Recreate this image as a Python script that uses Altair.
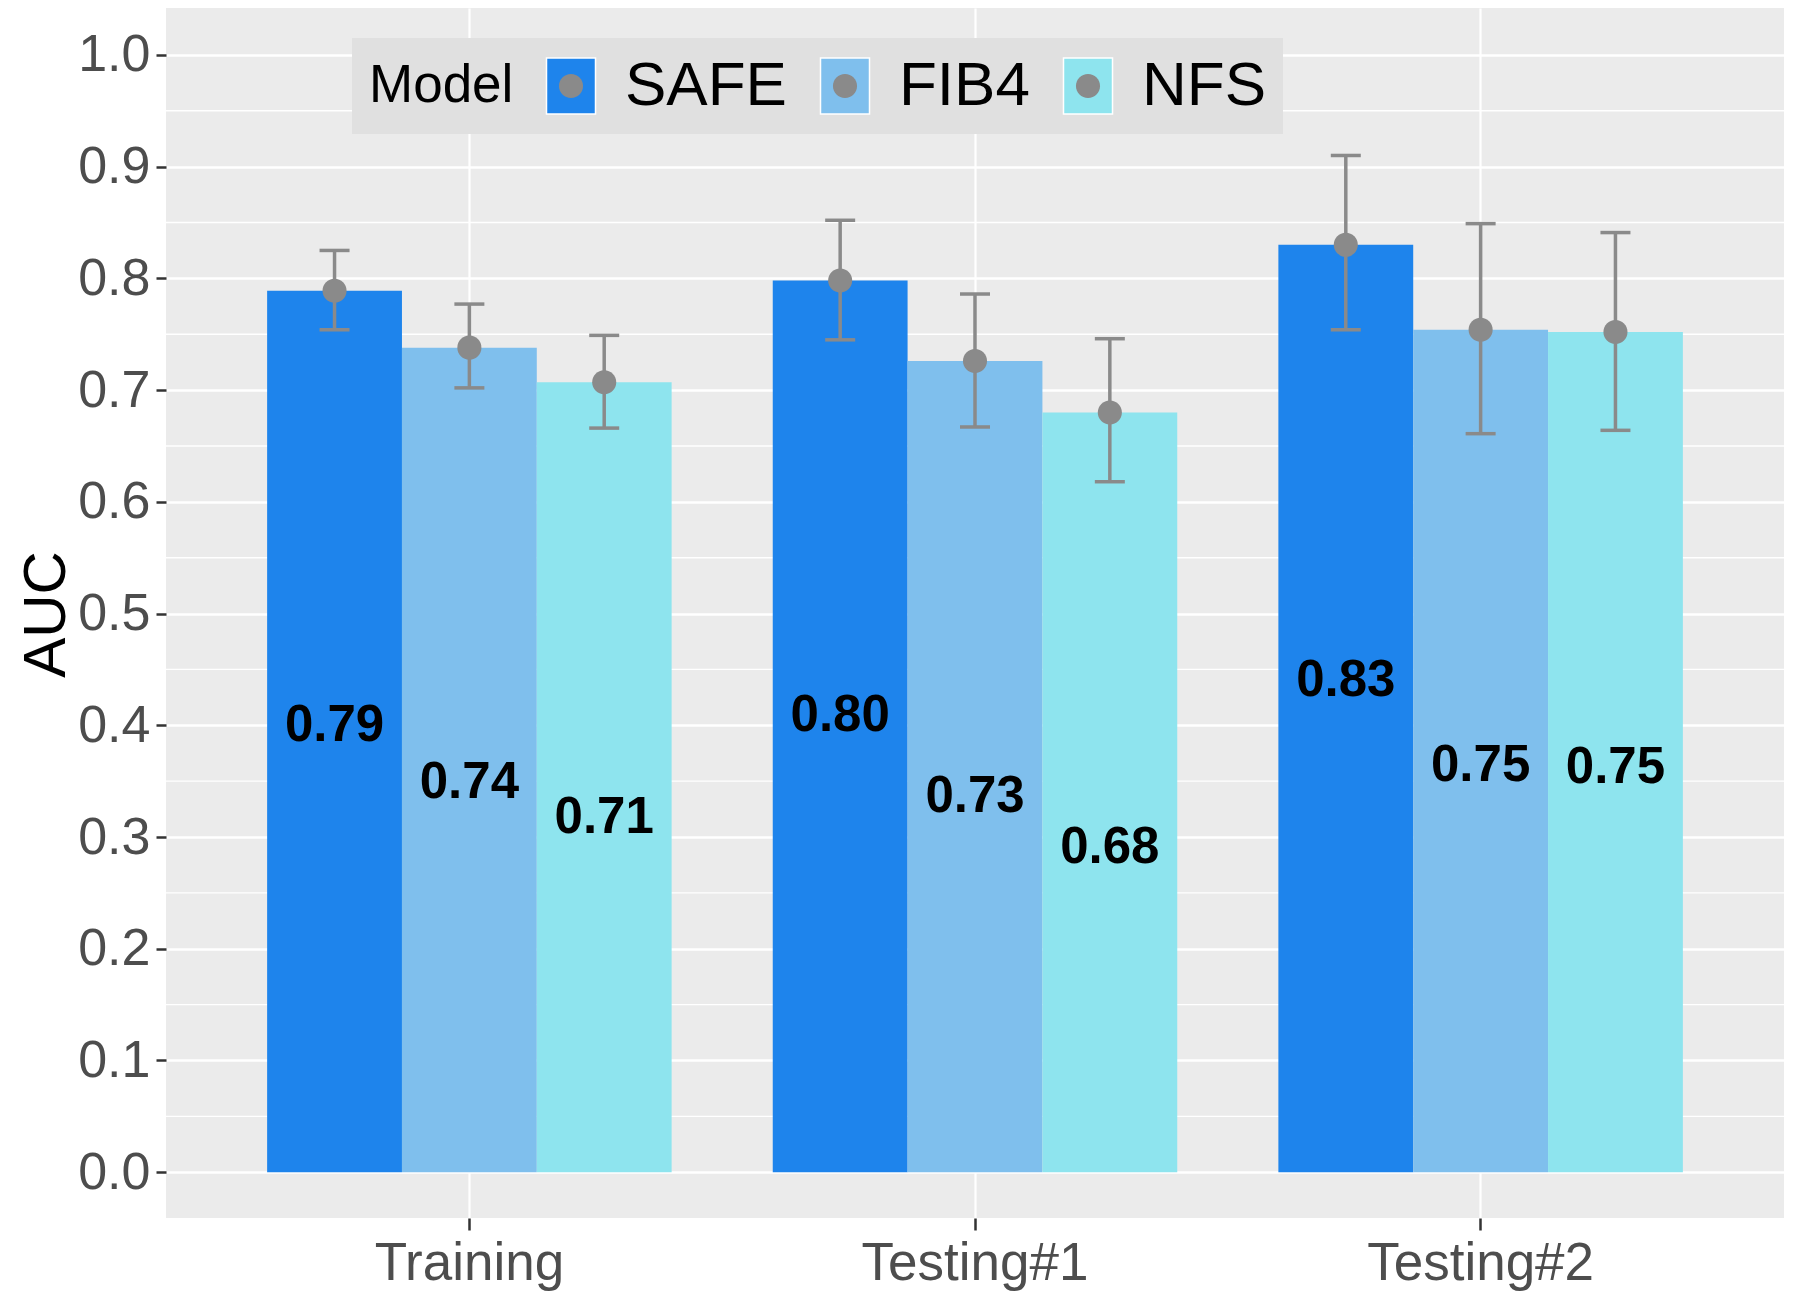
import altair as alt
import pandas as pd

sets = ["Training", "Testing#1", "Testing#2"]
models = ["SAFE", "FIB4", "NFS"]
colors = ["#1E84EC", "#7FBFED", "#8EE4EE"]

auc_safe = [0.789, 0.798, 0.830]
auc_fib4 = [0.738, 0.726, 0.754]
auc_nfs = [0.707, 0.680, 0.752]
lo_safe = [0.754, 0.745, 0.754]
hi_safe = [0.825, 0.852, 0.910]
lo_fib4 = [0.702, 0.667, 0.661]
hi_fib4 = [0.777, 0.786, 0.849]
lo_nfs = [0.666, 0.618, 0.664]
hi_nfs = [0.749, 0.746, 0.841]

major_ticks = [0.0, 0.1, 0.2, 0.3, 0.4, 0.5, 0.6, 0.7, 0.8, 0.9, 1.0]
minor_ticks = [0.05, 0.15, 0.25, 0.35, 0.45, 0.55, 0.65, 0.75, 0.85, 0.95]

rows = []
for m, a, lo, hi in [("SAFE", auc_safe, lo_safe, hi_safe),
                     ("FIB4", auc_fib4, lo_fib4, hi_fib4),
                     ("NFS", auc_nfs, lo_nfs, hi_nfs)]:
    for i, s in enumerate(sets):
        rows.append({"Set": s, "Model": m, "Model2": m, "AUC": a[i], "lo": lo[i], "hi": hi[i]})
df = pd.DataFrame(rows)
minor_df = pd.DataFrame({"v": minor_ticks})

FONT = "Liberation Sans"
GRAY = "#8A8A8A"
RECT = "M-0.875,-1H0.875V1H-0.875Z"
DOT = "M0.43,0A0.43,0.43,0,1,1,-0.43,0A0.43,0.43,0,1,1,0.43,0Z"
SYM = 3136

yscale = alt.Scale(domain=[-0.041, 1.042], nice=False, zero=False)
yaxis = alt.Axis(values=major_ticks, format=".1f", title="AUC", titleFontSize=60,
                 titleFontWeight="normal", titleColor="black", titleAngle=270,
                 titleX=-102, titleY=606, titleAlign="center", titleBaseline="alphabetic",
                 labelFontSize=52, labelColor="#4D4D4D", tickColor="#333333",
                 tickSize=10, tickWidth=2.5, labelPadding=6, grid=True,
                 gridColor="white", gridWidth=2.7, domain=False)

def Y(field):
    return alt.Y(field, type="quantitative", scale=yscale, axis=yaxis, title="AUC")

xenc = alt.X("Set:N", sort=sets, title=None,
             scale=alt.Scale(paddingInner=0.2, paddingOuter=0.2),
             axis=alt.Axis(labelAngle=0, labelFontSize=53, labelColor="#4D4D4D",
                           labelLimit=600, tickColor="#333333", tickSize=12, tickWidth=2.5,
                           labelPadding=7, grid=True, gridColor="white", gridWidth=2.2,
                           domain=False, bandPosition=0.5, labelBaseline="top"))
xoff = alt.XOffset("Model:N", sort=models, scale=alt.Scale(paddingInner=0, paddingOuter=0))

common = dict(title="Model", orient="none", legendX=186, legendY=30,
              direction="horizontal", titleOrient="left", titleFontSize=53,
              titleFontWeight="normal", titleAnchor="middle",
              titleBaseline="middle", titlePadding=26, titleLimit=500,
              labelFontSize=62, labelLimit=500, labelOffset=23,
              columnPadding=27, padding=17, symbolSize=SYM, symbolStrokeWidth=1.5,
              symbolOpacity=1)
legend1 = alt.Legend(titleColor="black", labelColor="black", fillColor="#E0E0E0",
                     symbolType=RECT, symbolStrokeColor="white", **common)
legend2 = alt.Legend(titleColor="transparent", labelColor="transparent",
                     symbolStrokeColor="transparent", symbolFillColor=GRAY, **common)

minor = alt.Chart(minor_df).mark_rule(color="white", strokeWidth=1.4).encode(y=Y("v"))

base = alt.Chart(df).encode(x=xenc, xOffset=xoff)

bars = base.mark_bar(opacity=1).encode(
    y=Y("AUC"), y2=alt.datum(0),
    color=alt.Color("Model:N", scale=alt.Scale(domain=models, range=colors), legend=legend1),
)
err = base.mark_rule(color=GRAY, strokeWidth=3.5).encode(y=Y("lo"), y2="hi:Q")
cap_lo = base.mark_tick(color=GRAY, thickness=3.5, size=30, opacity=1).encode(y=Y("lo"))
cap_hi = base.mark_tick(color=GRAY, thickness=3.5, size=30, opacity=1).encode(y=Y("hi"))
pts = base.mark_point(filled=True, color=GRAY, size=SYM, opacity=1).encode(
    y=Y("AUC"),
    shape=alt.Shape("Model2:N", sort=models, scale=alt.Scale(range=[DOT, DOT, DOT]), legend=legend2),
)
labels = base.transform_calculate(ly="datum.AUC - 0.39").mark_text(
    font=FONT, fontWeight="bold", fontSize=51, color="black", baseline="middle"
).encode(y=Y("ly"), text=alt.Text("AUC:Q", format=".2f"))

chart = alt.layer(minor, bars, err, cap_lo, cap_hi, pts, labels).properties(
    width=1618, height=1210,
    autosize=alt.AutoSizeParams(type="none"),
    padding={"left": 158, "top": 0, "right": 0, "bottom": 74},
).configure(font=FONT).configure_view(fill="#EBEBEB", stroke=None)

chart.save("out.html", embed_options={"renderer": "svg", "actions": False})
